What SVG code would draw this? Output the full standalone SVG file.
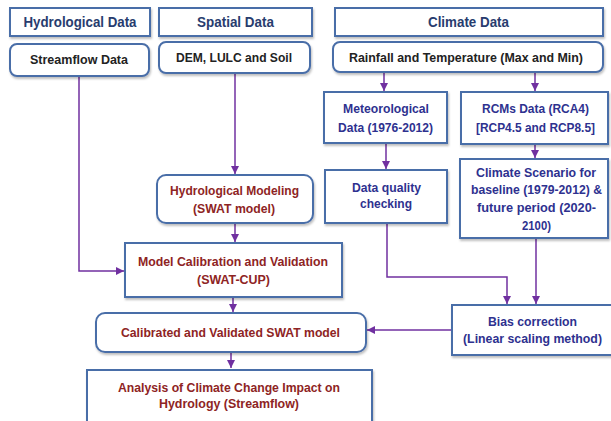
<svg xmlns="http://www.w3.org/2000/svg" width="611" height="421" viewBox="0 0 611 421">
<defs>
<filter id="sh" x="-10%" y="-10%" width="130%" height="140%">
<feDropShadow dx="1" dy="2" stdDeviation="1.2" flood-color="#000" flood-opacity="0.25"/>
</filter>
<marker id="ar" markerUnits="userSpaceOnUse" markerWidth="9" markerHeight="9" refX="8" refY="4" orient="auto">
<path d="M0,0 L8,4 L0,8 z" fill="#7030a0"/>
</marker>
</defs>
<style>
.box{fill:#fff;stroke:#4a6ea8;stroke-width:2;filter:url(#sh)}
text{font-family:"Liberation Sans",Arial,sans-serif;font-weight:bold;text-anchor:middle}
.h{font-size:14px;fill:#283c6e}
.k{font-size:12.5px;fill:#222}
.p{font-size:12.5px;fill:#2e318f}
.r{font-size:12.5px;fill:#8e2424}
.c{fill:none;stroke:#7030a0;stroke-width:1.5}
</style>
<g id="connectors">
<path class="c" d="M79,76 V271 H124" marker-end="url(#ar)"/>
<path class="c" d="M235,73 V174" marker-end="url(#ar)"/>
<path class="c" d="M384,72 V91" marker-end="url(#ar)"/>
<path class="c" d="M535,72 V91" marker-end="url(#ar)"/>
<path class="c" d="M386,143 V169" marker-end="url(#ar)"/>
<path class="c" d="M535,144 V158" marker-end="url(#ar)"/>
<path class="c" d="M235,223 V242" marker-end="url(#ar)"/>
<path class="c" d="M233,297 V312" marker-end="url(#ar)"/>
<path class="c" d="M387,223 V277 H507 V304" marker-end="url(#ar)"/>
<path class="c" d="M536,238 V304" marker-end="url(#ar)"/>
<path class="c" d="M452,330 H367" marker-end="url(#ar)"/>
<path class="c" d="M231,352 V368" marker-end="url(#ar)"/>
</g>
<g id="hydrological-data">
<rect class="box" x="10" y="8" width="140" height="28"/>
<text class="h" x="80" y="27" textLength="113" lengthAdjust="spacingAndGlyphs">Hydrological Data</text>
</g>
<g id="spatial-data">
<rect class="box" x="159" y="8" width="153" height="28"/>
<text class="h" x="235.5" y="27" textLength="77" lengthAdjust="spacingAndGlyphs">Spatial Data</text>
</g>
<g id="climate-data">
<rect class="box" x="335" y="8" width="268" height="28"/>
<text class="h" x="468.5" y="27" textLength="81" lengthAdjust="spacingAndGlyphs">Climate Data</text>
</g>
<g id="streamflow-data">
<rect class="box" x="10" y="44" width="139" height="32" rx="7"/>
<text class="k" x="79" y="64" textLength="98" lengthAdjust="spacingAndGlyphs">Streamflow Data</text>
</g>
<g id="dem-lulc-soil">
<rect class="box" x="159" y="42" width="151" height="31" rx="7"/>
<text class="k" x="234" y="62" textLength="116" lengthAdjust="spacingAndGlyphs">DEM, LULC and Soil</text>
</g>
<g id="rainfall-temperature">
<rect class="box" x="333" y="42" width="270" height="30" rx="7"/>
<text class="k" x="466" y="62" textLength="234" lengthAdjust="spacingAndGlyphs">Rainfall and Temperature (Max and Min)</text>
</g>
<g id="meteorological-data">
<rect class="box" x="324" y="92" width="123" height="51"/>
<text class="p" x="386" y="113" textLength="86" lengthAdjust="spacingAndGlyphs">Meteorological</text>
<text class="p" x="385.5" y="132" textLength="95" lengthAdjust="spacingAndGlyphs">Data (1976-2012)</text>
</g>
<g id="rcms-data">
<rect class="box" x="461" y="92" width="147" height="52"/>
<text class="p" x="535.5" y="113" textLength="107" lengthAdjust="spacingAndGlyphs">RCMs Data (RCA4)</text>
<text class="p" x="535.5" y="132" textLength="119" lengthAdjust="spacingAndGlyphs">[RCP4.5 and RCP8.5]</text>
</g>
<g id="data-quality">
<rect class="box" x="325" y="170" width="122" height="53"/>
<text class="p" x="386.5" y="192" textLength="69" lengthAdjust="spacingAndGlyphs">Data quality</text>
<text class="p" x="386" y="208" textLength="52" lengthAdjust="spacingAndGlyphs">checking</text>
</g>
<g id="climate-scenario">
<rect class="box" x="460" y="159" width="148" height="79"/>
<text class="p" x="536" y="177" textLength="120" lengthAdjust="spacingAndGlyphs">Climate Scenario for</text>
<text class="p" x="536.5" y="194" textLength="131" lengthAdjust="spacingAndGlyphs">baseline (1979-2012) &amp;</text>
<text class="p" x="536.5" y="212" textLength="119" lengthAdjust="spacingAndGlyphs">future period (2020-</text>
<text class="p" x="536.5" y="230" textLength="29" lengthAdjust="spacingAndGlyphs">2100)</text>
</g>
<g id="hydrological-modeling">
<rect class="box" x="157" y="175" width="156" height="48" rx="9"/>
<text class="r" x="234.5" y="195" textLength="129" lengthAdjust="spacingAndGlyphs">Hydrological Modeling</text>
<text class="r" x="234" y="213" textLength="82" lengthAdjust="spacingAndGlyphs">(SWAT model)</text>
</g>
<g id="model-calibration">
<rect class="box" x="125" y="243" width="217" height="54"/>
<text class="r" x="233" y="266" textLength="190" lengthAdjust="spacingAndGlyphs">Model Calibration and Validation</text>
<text class="r" x="233.5" y="284" textLength="73" lengthAdjust="spacingAndGlyphs">(SWAT-CUP)</text>
</g>
<g id="calibrated-model">
<rect class="box" x="96" y="313" width="270" height="39" rx="9"/>
<text class="r" x="230.5" y="337" textLength="219" lengthAdjust="spacingAndGlyphs">Calibrated and Validated SWAT model</text>
</g>
<g id="bias-correction">
<rect class="box" x="452" y="305" width="162" height="50"/>
<text class="p" x="532.5" y="326" textLength="89" lengthAdjust="spacingAndGlyphs">Bias correction</text>
<text class="p" x="532.5" y="343" textLength="139" lengthAdjust="spacingAndGlyphs">(Linear scaling method)</text>
</g>
<g id="analysis">
<rect class="box" x="87" y="370" width="285" height="56"/>
<text class="r" x="229" y="392" textLength="222" lengthAdjust="spacingAndGlyphs">Analysis of Climate Change Impact on</text>
<text class="r" x="229" y="408" textLength="140" lengthAdjust="spacingAndGlyphs">Hydrology (Streamflow)</text>
</g>
</svg>
